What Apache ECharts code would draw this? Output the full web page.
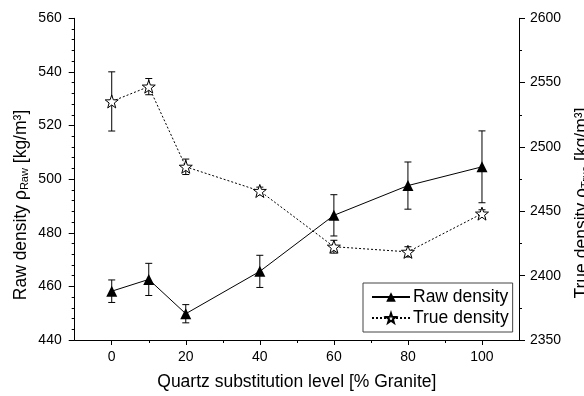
<!DOCTYPE html>
<html>
<head>
<meta charset="utf-8">
<script src="https://cdn.jsdelivr.net/npm/echarts@6/dist/echarts.min.js"></script>
<style>html,body{margin:0;padding:0;background:#fff}#c{width:584px;height:396px}</style>
</head>
<body>
<div id="c"></div>
<script>
// ---- data ----
const xLevels = [0, 10, 20, 40, 60, 80, 100];
const rawDensity = [458.2, 462.6, 449.8, 465.6, 486.5, 497.6, 504.6];
const rawErr = [4.2, 6.0, 3.4, 6.0, 7.7, 8.8, 13.4];
const trueDensity = [2535.4, 2546.9, 2484.6, 2465.8, 2422.5, 2418.5, 2448.2];
const trueErr = [23, 6.3, 6.0, 3.0, 5.0, 4.0, 3.0];
const xMajorTicks = [0, 20, 40, 60, 80, 100];
const xMinorTicks = [10, 30, 50, 70, 90];

const FONT = 'Liberation Sans, Arial, sans-serif';
const STAR = 'path://M50,0 L61.76,33.82 L97.55,34.55 L69.02,56.18 L79.39,90.45 L50,70 L20.61,90.45 L30.98,56.18 L2.45,34.55 L38.24,33.82 Z';

function errRender(params, api) {
  const x = api.value(0), lo = api.value(1), hi = api.value(2);
  const p1 = api.coord([x, lo]);
  const p2 = api.coord([x, hi]);
  const w = 3.5;
  const st = { stroke: '#000', lineWidth: 1 };
  return {
    type: 'group',
    children: [
      { type: 'line', shape: { x1: p1[0], y1: p1[1], x2: p2[0], y2: p2[1] }, style: st },
      { type: 'line', shape: { x1: p1[0] - w, y1: p1[1], x2: p1[0] + w, y2: p1[1] }, style: st },
      { type: 'line', shape: { x1: p2[0] - w, y1: p2[1], x2: p2[0] + w, y2: p2[1] }, style: st }
    ]
  };
}

const rawPts = xLevels.map((x, i) => [x, rawDensity[i]]);
const truePts = xLevels.map((x, i) => [x, trueDensity[i]]);
const rawErrData = xLevels.map((x, i) => [x, rawDensity[i] - rawErr[i], rawDensity[i] + rawErr[i]]);
const trueErrData = xLevels.map((x, i) => [x, trueDensity[i] - trueErr[i], trueDensity[i] + trueErr[i]]);

const chart = echarts.init(document.getElementById('c'), null, { renderer: 'canvas' });
const axisLine = { show: true, onZero: false, lineStyle: { color: '#000', width: 1 } };
const labelStyle = { color: '#000', fontSize: 14, fontFamily: FONT, formatter: v => String(v) };

chart.setOption({
  animation: false,
  backgroundColor: '#fff',
  grid: { left: 74.7, right: 65, top: 18.3, bottom: 52.7, containLabel: false },
  xAxis: [
    {
      type: 'value', min: -10, max: 110, position: 'bottom',
      axisLine: axisLine,
      axisTick: { show: true, customValues: xMajorTicks, length: 5, lineStyle: { color: '#000' } },
      axisLabel: Object.assign({ customValues: xMajorTicks, margin: 10 }, labelStyle),
      splitLine: { show: false },
      name: 'Quartz substitution level [% Granite]',
      nameLocation: 'middle', nameGap: 33,
      nameTextStyle: { color: '#000', fontSize: 17.5, fontFamily: FONT }
    },
    {
      type: 'value', min: -10, max: 110, position: 'bottom', offset: 0,
      axisLine: { show: false, onZero: false },
      axisTick: { show: true, customValues: xMinorTicks, length: 3, lineStyle: { color: '#000' } },
      axisLabel: { show: false },
      splitLine: { show: false }
    }
  ],
  yAxis: [
    {
      type: 'value', min: 440, max: 560, interval: 20, position: 'left',
      axisLine: axisLine,
      axisTick: { show: true, length: 6, lineStyle: { color: '#000' } },
      minorTick: { show: true, splitNumber: 5, length: 3, lineStyle: { color: '#000' } },
      axisLabel: Object.assign({ margin: 13 }, labelStyle),
      splitLine: { show: false }
    },
    {
      type: 'value', min: 2350, max: 2600, interval: 50, position: 'right',
      axisLine: axisLine,
      axisTick: { show: true, length: 6, lineStyle: { color: '#000' } },
      minorTick: { show: true, splitNumber: 2, length: 3, lineStyle: { color: '#000' } },
      axisLabel: Object.assign({ margin: 11 }, labelStyle),
      splitLine: { show: false }
    }
  ],
  legend: {
    orient: 'vertical',
    left: 363, top: 283,
    width: 152,
    borderColor: '#444', borderWidth: 1,
    padding: [5, 4, 5, 8],
    itemGap: 3,
    itemWidth: 38, itemHeight: 12,
    textStyle: { color: '#000', fontSize: 17.5, fontFamily: FONT, padding: [0, 0, 0, -2] },
    data: ['Raw density', 'True density']
  },
  graphic: [
    {
      type: 'text', x: 20, y: 205, rotation: Math.PI / 2,
      style: {
        text: '{a|Raw density ρ}{s|Raw}{a| [kg/m³]}',
        align: 'center', verticalAlign: 'middle',
        rich: {
          a: { fontSize: 17.5, fontFamily: FONT, fill: '#000', lineHeight: 20, verticalAlign: 'bottom' },
          s: { fontSize: 11, fontFamily: FONT, fill: '#000', lineHeight: 14, verticalAlign: 'bottom' }
        }
      }
    },
    {
      type: 'text', x: 581, y: 203, rotation: Math.PI / 2,
      style: {
        text: '{a|True density ρ}{s|True}{a| [kg/m³]}',
        align: 'center', verticalAlign: 'middle',
        rich: {
          a: { fontSize: 17.5, fontFamily: FONT, fill: '#000', lineHeight: 20, verticalAlign: 'bottom' },
          s: { fontSize: 11, fontFamily: FONT, fill: '#000', lineHeight: 14, verticalAlign: 'bottom' }
        }
      }
    }
  ],
  series: [
    {
      type: 'custom', name: 'rawErr', xAxisIndex: 0, yAxisIndex: 0,
      renderItem: errRender, data: rawErrData, z: 1, silent: true
    },
    {
      type: 'custom', name: 'trueErr', xAxisIndex: 0, yAxisIndex: 1,
      renderItem: errRender, data: trueErrData, z: 1, silent: true
    },
    {
      type: 'line', name: 'Raw density', xAxisIndex: 0, yAxisIndex: 0,
      data: rawPts, z: 3,
      symbol: 'triangle', symbolSize: 11,
      lineStyle: { color: '#000', width: 1, type: 'solid' },
      itemStyle: { color: '#000', borderColor: '#000', borderWidth: 0 }
    },
    {
      type: 'line', name: 'True density', xAxisIndex: 0, yAxisIndex: 1,
      data: truePts, z: 3,
      symbol: STAR, symbolSize: 13,
      lineStyle: { color: '#000', width: 1, type: [2, 2] },
      itemStyle: { color: '#fff', borderColor: '#000', borderWidth: 1 }
    }
  ]
});
</script>
</body>
</html>
